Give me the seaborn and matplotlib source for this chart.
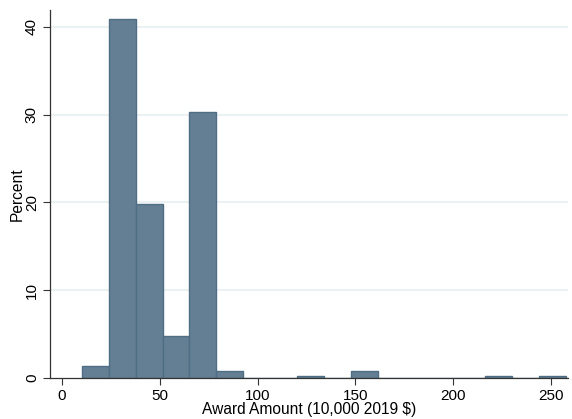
import numpy as np
import pandas as pd
import matplotlib
matplotlib.use("Agg")
import matplotlib.pyplot as plt
import seaborn as sns

# histogram: 18 bins of ~13.75 starting at ~10.2
BIN_START = 10.2
BIN_WIDTH = 13.75
percent = [1.4, 40.9, 19.8, 4.8, 30.3, 0.8, 0, 0, 0.27, 0, 0.8,
           0, 0, 0, 0, 0.27, 0, 0.27]
x_ticks = [0, 50, 100, 150, 200, 250]
y_ticks = [0, 10, 20, 30, 40]

edges = [BIN_START + BIN_WIDTH * i for i in range(len(percent) + 1)]
centers = [(a + b) / 2 for a, b in zip(edges[:-1], edges[1:])]
df = pd.DataFrame({"award": centers, "pct": percent})

sns.set_style("white")
plt.rcParams["font.family"] = ["Liberation Sans", "DejaVu Sans"]
plt.rcParams["text.color"] = "black"
plt.rcParams["axes.labelcolor"] = "black"
plt.rcParams["xtick.color"] = "black"
plt.rcParams["ytick.color"] = "black"

fig = plt.figure(figsize=(5.72, 4.19), dpi=100)
ax = fig.add_axes([50 / 572, 41 / 419, 518 / 572, 368 / 419])

for y in y_ticks[1:]:
    ax.axhline(y, color="#eaf2f3", lw=1.5, zorder=0)

sns.histplot(data=df, x="award", weights="pct", bins=edges, ax=ax,
             color="#647f93", edgecolor="#4f6d84", linewidth=1.0, alpha=1)

ax.set_xlim(-6.1, 258.7)
ax.set_ylim(0, 41.9)
ax.set_xticks(x_ticks)
ax.set_yticks(y_ticks)
ax.set_yticklabels([str(v) for v in y_ticks], rotation=90, va="center")
ax.tick_params(axis="both", direction="out", length=5, width=0.8,
               color="#333333", labelsize=11, pad=3, left=True, bottom=True)

for side in ["top", "right"]:
    ax.spines[side].set_visible(False)
for side in ["left", "bottom"]:
    ax.spines[side].set_color("#333333")
    ax.spines[side].set_linewidth(0.9)

ax.set_xlabel("Award Amount (10,000 2019 $)", fontsize=11.2, labelpad=-1)
ax.set_ylabel("Percent", fontsize=11.2, labelpad=0)

fig.savefig("out.png", dpi=100)
